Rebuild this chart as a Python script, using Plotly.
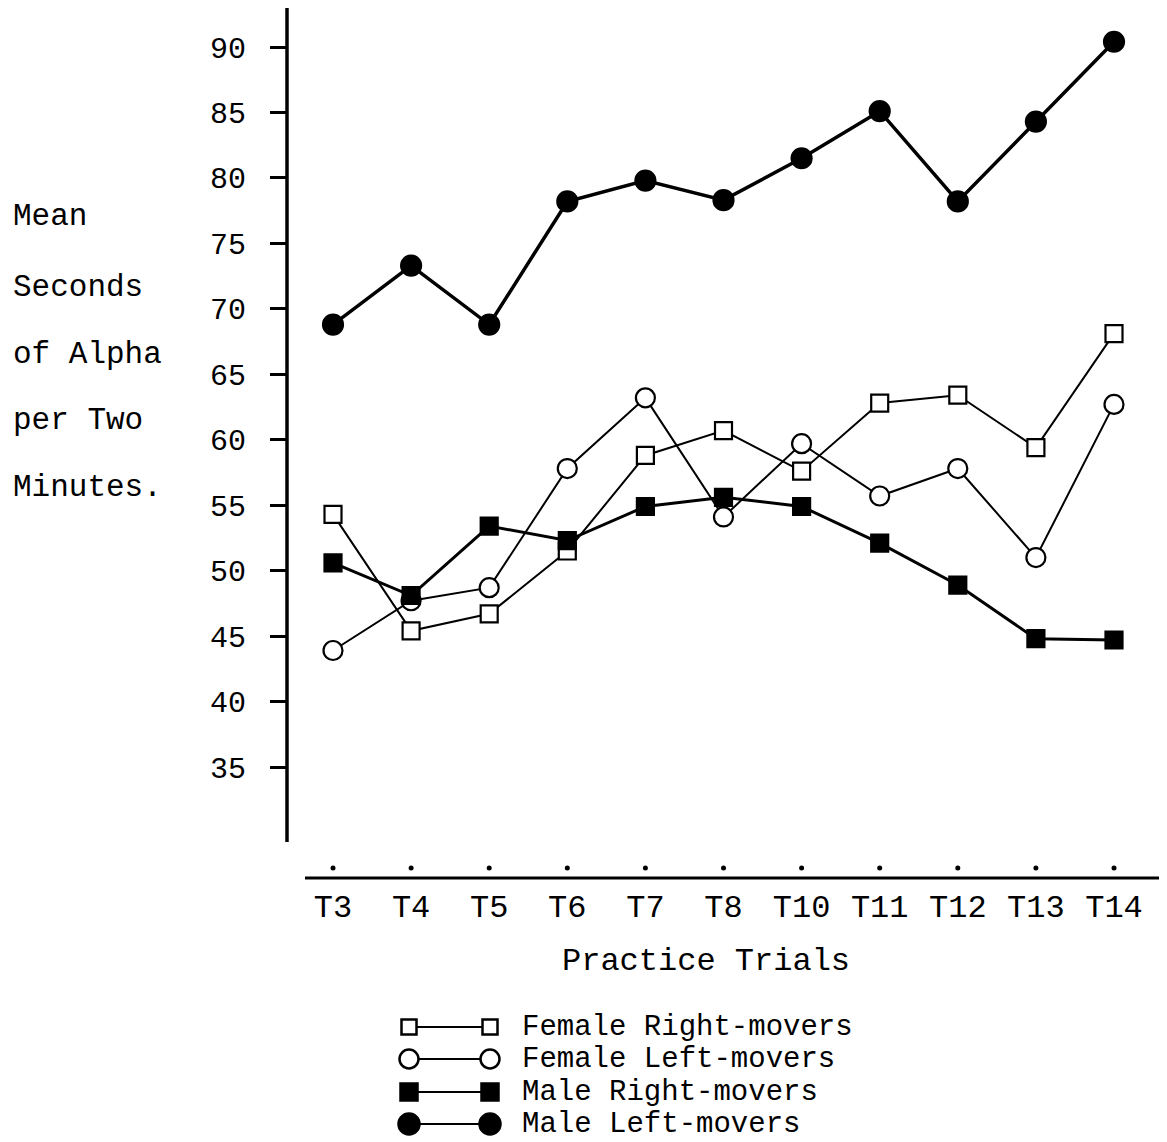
import plotly.graph_objects as go

trials = ["T3", "T4", "T5", "T6", "T7", "T8", "T10", "T11", "T12", "T13", "T14"]
female_right = [54.3, 45.4, 46.7, 51.5, 58.8, 60.7, 57.6, 62.8, 63.4, 59.4, 68.1]
female_left = [43.9, 47.7, 48.7, 57.8, 63.2, 54.1, 59.7, 55.7, 57.8, 51.0, 62.7]
male_right = [50.6, 48.1, 53.4, 52.3, 54.9, 55.6, 54.9, 52.1, 48.9, 44.8, 44.7]
male_left = [68.8, 73.3, 68.8, 78.2, 79.8, 78.3, 81.5, 85.1, 78.2, 84.3, 90.4]
y_ticks = [35, 40, 45, 50, 55, 60, 65, 70, 75, 80, 85, 90]
y_label_lines = ["Mean", "Seconds", "of Alpha", "per Two", "Minutes."]
legend_names = ["Female Right-movers", "Female Left-movers", "Male Right-movers", "Male Left-movers"]

# page offset (body margin) in the browser
OFF = 8
W, H = 1167 - OFF, 1142 - OFF
L = 287 - OFF
T = 8 - OFF
BOT = 878 - OFF
R = 0
B = H - BOT
PW, PH = W - L - R, H - T - B
FONT = "Liberation Mono"


def px(x):
    return (x - OFF - L) / PW


def py(y):
    return (BOT - (y - OFF)) / PH


xs = list(range(len(trials)))
sx = (1114 - 333) / 10.0
x0 = -(333 - 287) / sx
x1 = x0 + PW / sx
sy = (767 - 47) / 55.0
y1 = 90 + (47 - 8) / sy
y0 = 90 - (878 - 47) / sy

series = [
    (female_right, "square", "white", 2.0, 17),
    (female_left, "circle", "white", 2.0, 19),
    (male_right, "square", "black", 3.0, 17),
    (male_left, "circle", "black", 3.5, 20),
]

fig = go.Figure()
for (vals, sym, fill, lw, ms), name in zip(series, legend_names):
    fig.add_trace(go.Scatter(
        x=xs, y=vals, mode="lines+markers", name=name,
        line=dict(color="black", width=lw),
        marker=dict(symbol=sym, size=ms, color=fill,
                    line=dict(color="black", width=2.2)),
        cliponaxis=False, showlegend=False,
    ))

dot_y = 90 - (868 - 47) / sy
fig.add_trace(go.Scatter(
    x=xs, y=[dot_y] * len(xs), mode="markers",
    marker=dict(size=5, color="black"), showlegend=False, cliponaxis=False,
))

shapes = []
shapes.append(dict(type="line", xref="paper", yref="paper", x0=0, x1=0,
                   y0=py(842), y1=1.0, line=dict(color="black", width=3.5)))
shapes.append(dict(type="line", xref="paper", yref="paper", x0=px(305), x1=px(1166),
                   y0=0, y1=0, line=dict(color="black", width=3)))

annotations = []
for txt, yy in zip(y_label_lines, [217, 287, 354, 420, 487]):
    annotations.append(dict(text=txt, xref="paper", yref="paper", x=px(11), y=py(yy),
                            xanchor="left", yanchor="middle", showarrow=False,
                            font=dict(family=FONT, size=31, color="black")))

annotations.append(dict(text="Practice Trials", xref="paper", yref="paper",
                        x=px(706), y=py(961), xanchor="center", yanchor="middle",
                        showarrow=False, font=dict(family=FONT, size=32, color="black")))

rows = [1027, 1059, 1092, 1124]
lx0, lx1 = 409, 490
sizes = [(7.5, 2.5), (9.5, 2.5), (8.5, 2.5), (10.5, 2.5)]
for (vals, sym, fill, lw, ms), name, ry, (half, bw) in zip(series, legend_names, rows, sizes):
    shapes.append(dict(type="line", xref="paper", yref="paper", x0=px(lx0), x1=px(lx1),
                       y0=py(ry), y1=py(ry), line=dict(color="black", width=2)))
    for cx in (lx0, lx1):
        shapes.append(dict(type="rect" if sym == "square" else "circle",
                           xref="paper", yref="paper",
                           x0=px(cx - half), x1=px(cx + half),
                           y0=py(ry + half), y1=py(ry - half),
                           fillcolor=fill, line=dict(color="black", width=bw)))
    annotations.append(dict(text=name, xref="paper", yref="paper", x=px(520), y=py(ry),
                            xanchor="left", yanchor="middle", showarrow=False,
                            font=dict(family=FONT, size=29, color="black")))

fig.update_layout(
    width=W, height=H,
    margin=dict(l=L, r=R, t=T, b=B, pad=0),
    paper_bgcolor="white", plot_bgcolor="white",
    shapes=shapes, annotations=annotations,
    showlegend=False,
    xaxis=dict(range=[x0, x1], tickvals=xs, ticktext=trials,
               showgrid=False, zeroline=False, showline=False, ticks="",
               tickfont=dict(family=FONT, size=32, color="black"),
               ticklabelstandoff=6),
    yaxis=dict(range=[y0, y1], tickvals=y_ticks,
               showgrid=False, zeroline=False, showline=False,
               ticks="outside", ticklen=16, tickwidth=3, tickcolor="black",
               tickfont=dict(family=FONT, size=30, color="black"),
               ticklabelstandoff=18),
)

fig.write_html("out.html")
